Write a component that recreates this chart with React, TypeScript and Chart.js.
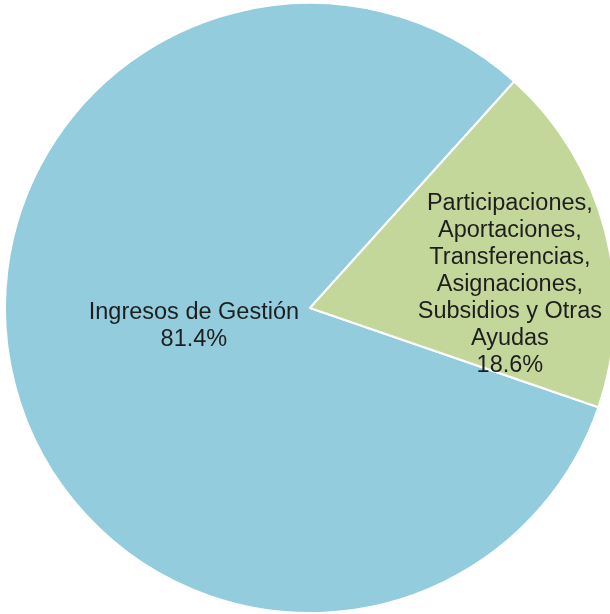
import React, { useEffect, useRef } from "react";
import { Chart, registerables } from "chart.js";

Chart.register(...registerables);

const categories: string[] = [
  "Ingresos de Gestión",
  "Participaciones, Aportaciones, Transferencias, Asignaciones, Subsidios y Otras Ayudas",
];
const labelLines: string[][] = [
  ["Ingresos de Gestión"],
  ["Participaciones,", "Aportaciones,", "Transferencias,", "Asignaciones,", "Subsidios y Otras", "Ayudas"],
];
const values: number[] = [81.4, 18.6];
const colors: string[] = ["#92CCDD", "#C4D79B"];
// label placement relative to the pie centre: angle (deg, screen) and radius fraction
const labelAngles: number[] = [171.4, -6.8];
const labelRadii: number[] = [0.385, 0.66];

const labelPlugin = {
  id: "sliceLabels",
  afterDatasetsDraw(chart: any) {
    const meta = chart.getDatasetMeta(0);
    const ctx = chart.ctx;
    ctx.save();
    ctx.font = '23.5px "Liberation Sans", Arial, sans-serif';
    ctx.fillStyle = "#1e1e1e";
    ctx.textAlign = "center";
    ctx.textBaseline = "middle";
    const lh = 27;
    meta.data.forEach((arc: any, i: number) => {
      const { x, y, outerRadius } = arc.getProps(["x", "y", "outerRadius"], true);
      const a = (labelAngles[i] * Math.PI) / 180;
      const cx = x + Math.cos(a) * outerRadius * labelRadii[i];
      const cy = y + Math.sin(a) * outerRadius * labelRadii[i];
      const lines = [...labelLines[i], values[i].toFixed(1) + "%"];
      const top = cy - ((lines.length - 1) * lh) / 2;
      lines.forEach((t, k) => ctx.fillText(t, cx, top + k * lh));
    });
    ctx.restore();
  },
};

export default function App() {
  const ref = useRef<HTMLCanvasElement | null>(null);
  useEffect(() => {
    document.body.style.margin = "0";
    const chart = new Chart(ref.current as HTMLCanvasElement, {
      type: "pie",
      data: {
        labels: categories,
        datasets: [
          {
            data: values,
            backgroundColor: colors,
            borderColor: "#ffffff",
            borderWidth: 2,
          },
        ],
      },
      options: {
        responsive: false,
        animation: false,
        rotation: 109,
        layout: { padding: 4 },
        plugins: {
          legend: { display: false },
          tooltip: { enabled: false },
        },
      },
      plugins: [labelPlugin],
    });
    return () => chart.destroy();
  }, []);
  return (
    <div style={{ position: "fixed", left: 0, top: -2, width: 620, height: 620, background: "#fff" }}>
      <canvas ref={ref} width={620} height={620} style={{ width: 620, height: 620 }} />
    </div>
  );
}
